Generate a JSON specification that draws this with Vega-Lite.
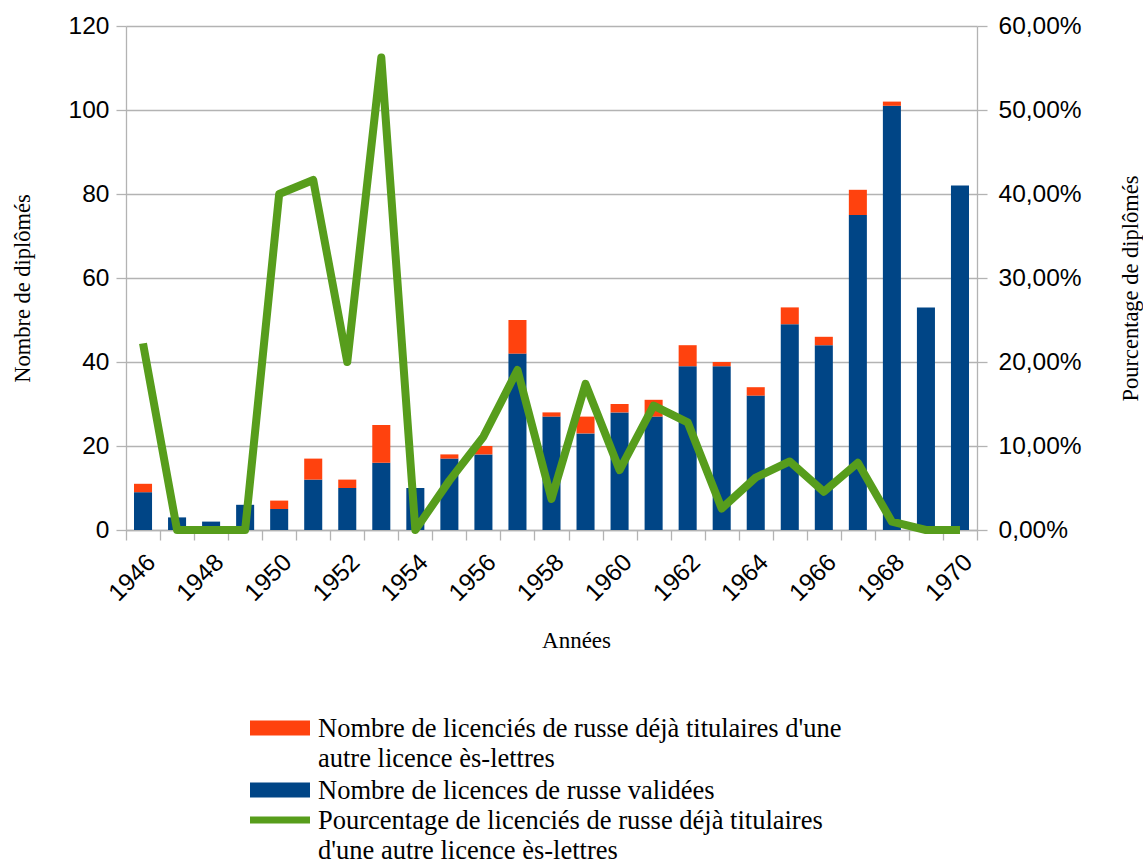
{
  "$schema": "https://vega.github.io/schema/vega-lite/v6.json",
  "width": 851,
  "height": 504,
  "autosize": "none",
  "padding": {"left": 126, "top": 26, "right": 166, "bottom": 333},
  "background": "#ffffff",
  "data": {
    "values": [
      {"annee": 1946, "validees": 9, "total": 11, "pct": 0.2222},
      {"annee": 1947, "validees": 3, "total": 3, "pct": 0},
      {"annee": 1948, "validees": 2, "total": 2, "pct": 0},
      {"annee": 1949, "validees": 6, "total": 6, "pct": 0},
      {"annee": 1950, "validees": 5, "total": 7, "pct": 0.4},
      {"annee": 1951, "validees": 12, "total": 17, "pct": 0.4167},
      {"annee": 1952, "validees": 10, "total": 12, "pct": 0.2},
      {"annee": 1953, "validees": 16, "total": 25, "pct": 0.5625},
      {"annee": 1954, "validees": 10, "total": 10, "pct": 0},
      {"annee": 1955, "validees": 17, "total": 18, "pct": 0.0588},
      {"annee": 1956, "validees": 18, "total": 20, "pct": 0.1111},
      {"annee": 1957, "validees": 42, "total": 50, "pct": 0.1905},
      {"annee": 1958, "validees": 27, "total": 28, "pct": 0.037},
      {"annee": 1959, "validees": 23, "total": 27, "pct": 0.1739},
      {"annee": 1960, "validees": 28, "total": 30, "pct": 0.0714},
      {"annee": 1961, "validees": 27, "total": 31, "pct": 0.1481},
      {"annee": 1962, "validees": 39, "total": 44, "pct": 0.1282},
      {"annee": 1963, "validees": 39, "total": 40, "pct": 0.0256},
      {"annee": 1964, "validees": 32, "total": 34, "pct": 0.0625},
      {"annee": 1965, "validees": 49, "total": 53, "pct": 0.0816},
      {"annee": 1966, "validees": 44, "total": 46, "pct": 0.0455},
      {"annee": 1967, "validees": 75, "total": 81, "pct": 0.08},
      {"annee": 1968, "validees": 101, "total": 102, "pct": 0.0099},
      {"annee": 1969, "validees": 53, "total": 53, "pct": 0},
      {"annee": 1970, "validees": 82, "total": 82, "pct": 0}
    ]
  },
  "layer": [
    {
      "layer": [
        {
          "mark": {"type": "bar", "width": {"band": 0.53}},
          "encoding": {
            "x": {
              "field": "annee",
              "type": "ordinal",
              "scale": {"paddingInner": 0, "paddingOuter": 0},
              "axis": {
                "title": "Années",
                "titleFont": "Liberation Serif",
                "titleFontSize": 23,
                "titleX": 450,
                "titleY": 117,
                "titleAlign": "center",
                "titleBaseline": "alphabetic",
                "labelAngle": -45,
                "labelAlign": "right",
                "labelBaseline": "top",
                "labelFont": "Liberation Sans",
                "labelFontSize": 24.5,
                "labelExpr": "datum.value % 2 == 0 ? datum.label : ''",
                "labelOverlap": false,
                "tickBand": "extent",
                "tickSize": 10,
                "labelPadding": 10,
                "grid": false
              }
            },
            "y": {
              "field": "validees",
              "type": "quantitative",
              "scale": {"domain": [0, 120], "nice": false},
              "axis": {
                "title": "Nombre de diplômés",
                "titleFont": "Liberation Serif",
                "titleFontSize": 22.5,
                "titleX": -104,
                "titleY": 262,
                "titleAlign": "center",
                "titleBaseline": "middle",
                "titleAngle": 270,
                "values": [0, 20, 40, 60, 80, 100, 120],
                "labelFont": "Liberation Sans",
                "labelFontSize": 24.5,
                "labelPadding": 7,
                "tickSize": 10,
                "grid": true
              }
            },
            "color": {
              "datum": "validees",
              "type": "nominal",
              "scale": {"range": ["#004586"]},
              "legend": {
                "orient": "none",
                "legendX": 124,
                "legendY": 734,
                "title": null,
                "labelFont": "Liberation Serif",
                "labelFontSize": 26.5,
                "labelColor": "#000000",
                "labelLimit": 900,
                "labelOffset": 8,
                "labelBaseline": "top",
                "labelExpr": "'Nombre de licences de russe validées'",
                "symbolType": "M-1,-0.25H1V0.25H-1Z",
                "symbolSize": 3600,
                "symbolStrokeWidth": 0,
                "encode": {
                  "symbols": {"update": {"fill": {"value": "#004586"}, "opacity": {"value": 1}}},
                  "labels": {"update": {"lineHeight": {"value": 30.5}, "dy": {"value": -12.4}}}
                }
              }
            }
          }
        },
        {
          "mark": {"type": "bar", "width": {"band": 0.53}},
          "encoding": {
            "x": {"field": "annee", "type": "ordinal"},
            "y": {"field": "total", "type": "quantitative", "title": "Nombre de diplômés"},
            "y2": {"field": "validees"},
            "fill": {
              "datum": "deja",
              "type": "nominal",
              "scale": {"range": ["#ff420e"]},
              "legend": {
                "orient": "none",
                "legendX": 124,
                "legendY": 672,
                "title": null,
                "labelFont": "Liberation Serif",
                "labelFontSize": 26.5,
                "labelColor": "#000000",
                "labelLimit": 900,
                "labelOffset": 8,
                "labelBaseline": "top",
                "labelExpr": "[\"Nombre de licenciés de russe déjà titulaires d'une\", 'autre licence ès-lettres']",
                "symbolType": "M-1,-0.25H1V0.25H-1Z",
                "symbolSize": 3600,
                "symbolStrokeWidth": 0,
                "encode": {
                  "symbols": {"update": {"fill": {"value": "#ff420e"}, "opacity": {"value": 1}}},
                  "labels": {"update": {"lineHeight": {"value": 30.5}, "dy": {"value": -12.4}}}
                }
              }
            }
          }
        }
      ]
    },
    {
      "mark": {"type": "line", "strokeWidth": 8, "strokeJoin": "round"},
      "encoding": {
        "x": {"field": "annee", "type": "ordinal"},
        "y": {
          "field": "pct",
          "type": "quantitative",
          "scale": {"domain": [0, 0.6], "nice": false},
          "axis": {
            "orient": "right",
            "title": "Pourcentage de diplômés",
            "titleFont": "Liberation Serif",
            "titleFontSize": 22.5,
            "titleX": 153,
            "titleY": 262,
            "titleAlign": "center",
            "titleBaseline": "middle",
            "titleAngle": 270,
            "values": [0, 0.1, 0.2, 0.3, 0.4, 0.5, 0.6],
            "labelExpr": "replace(format(datum.value, '.2%'), '.', ',')",
            "labelFont": "Liberation Sans",
            "labelFontSize": 24.5,
            "labelPadding": 11,
            "tickSize": 10,
            "grid": false
          }
        },
        "stroke": {
          "datum": "pct",
          "type": "nominal",
          "scale": {"range": ["#579d1c"]},
          "legend": {
            "orient": "none",
            "legendX": 124,
            "legendY": 764,
            "title": null,
            "labelFont": "Liberation Serif",
            "labelFontSize": 26.5,
            "labelColor": "#000000",
            "labelLimit": 900,
            "labelOffset": 8,
            "labelBaseline": "top",
            "labelExpr": "['Pourcentage de licenciés de russe déjà titulaires', \"d'une autre licence ès-lettres\"]",
            "symbolType": "M-1,-0.117H1V0.117H-1Z",
            "symbolSize": 3600,
            "symbolStrokeWidth": 0,
            "encode": {
              "symbols": {"update": {"fill": {"value": "#579d1c"}, "stroke": {"value": null}, "strokeWidth": {"value": 0}, "opacity": {"value": 1}}},
              "labels": {"update": {"lineHeight": {"value": 30.5}, "dy": {"value": -12.4}}}
            }
          }
        }
      }
    }
  ],
  "resolve": {"scale": {"y": "independent"}},
  "config": {
    "view": {"stroke": null},
    "axis": {
      "domainColor": "#b3b3b3",
      "tickColor": "#b3b3b3",
      "gridColor": "#b3b3b3",
      "domainWidth": 1.3,
      "tickWidth": 1.3,
      "gridWidth": 1.3,
      "labelColor": "#000000",
      "titleColor": "#000000",
      "titleFontWeight": "normal"
    }
  }
}
